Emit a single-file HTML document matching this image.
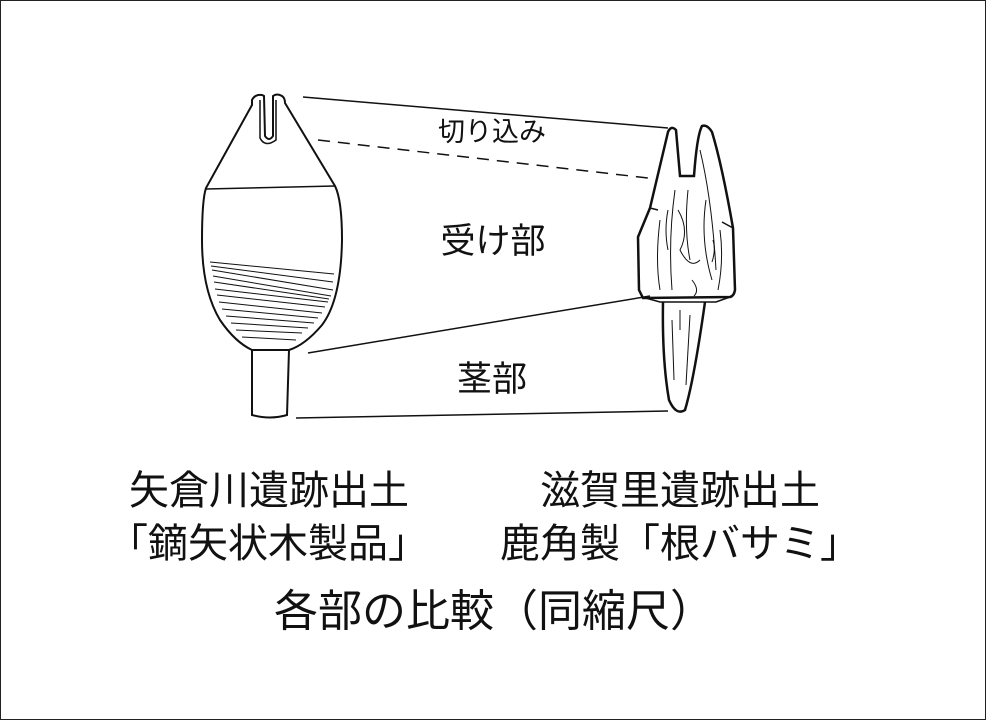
<!DOCTYPE html>
<html><head><meta charset="utf-8"><style>
html,body{margin:0;padding:0;background:#fff}
svg{display:block}
text{font-family:"Liberation Sans","Noto Sans CJK JP",sans-serif;fill:#111}
</style></head><body>
<svg width="986" height="720" viewBox="0 0 986 720" xmlns="http://www.w3.org/2000/svg">
<rect x="0.5" y="0.5" width="985" height="719" fill="#fff" stroke="#222"/>
<g stroke="#111" fill="none" stroke-width="1.5">
<line x1="303" y1="97" x2="668" y2="128"/>
<line x1="318" y1="140" x2="648" y2="178" stroke-dasharray="12,8"/>
<line x1="308" y1="353" x2="650" y2="296"/>
<line x1="296" y1="418" x2="668" y2="411"/>
<path d="M252,100 Q255,94 262,95 L264,96 L265,136 Q269,142 273,136 L273,96 Q277,93 282,96 Q285,98 285,103 L335,186 Q342,200 342,240 Q341,300 322,325 Q305,345 289,350 L252,350 Q235,342 220,320 Q202,290 202,240 Q202,200 206,188 L252,105 Z" stroke-width="2"/>
<path d="M260,100 L260,138 Q265,148 276,140 L276,100"/>
<path d="M206,189 L335,186"/>
<path d="M252,350 L252,415 Q270,420 287,415 L289,350" stroke-width="2"/>
<g stroke-width="1">
<path d="M210,262 L334,274"/><path d="M211,266 L333,282"/><path d="M212,270 L333,290"/>
<path d="M213,276 L331,296"/><path d="M214,282 L329,299"/><path d="M215,289 L328,302"/>
<path d="M217,295 L325,307"/><path d="M219,302 L322,313"/><path d="M222,309 L318,318"/>
<path d="M226,316 L314,323"/><path d="M231,323 L308,328"/><path d="M236,330 L302,333"/>
<path d="M242,337 L296,340"/>
</g>
<path d="M668,132 Q671,125 676,130 L680,176 L694,176 Q697,135 702,126 Q707,124 712,132 Q722,165 733,228 L735,290 Q734,296 730,297 L643,298 L639,290 L638,237 L650,208 Z" stroke-width="2.5"/>
<path d="M650,208 L658,210 M733,228 L722,222 M642,297 L660,302 L716,302 L730,297"/>
<path d="M663,302 Q662,360 669,400 Q676,416 685,410 Q694,380 705,302" stroke-width="2.5"/>
<g stroke-width="1">
<path d="M675,190 Q668,240 672,290"/><path d="M688,190 Q684,230 690,260"/><path d="M700,150 Q712,200 716,270"/>
<path d="M660,220 Q655,260 660,290"/><path d="M678,210 Q690,230 680,250 Q690,270 700,260"/><path d="M706,200 Q700,240 712,280"/>
<path d="M720,230 Q724,260 718,290"/><path d="M672,320 L674,380"/><path d="M690,315 L686,385"/><path d="M680,310 L680,330"/>
<path d="M668,210 Q664,230 668,250 M692,280 Q700,290 694,296 M713,240 Q716,250 712,262"/>
</g>
</g>
<text x="492" y="141" font-size="27" text-anchor="middle">切り込み</text>
<text x="493" y="253" font-size="35" text-anchor="middle">受け部</text>
<text x="492" y="391" font-size="35" text-anchor="middle">茎部</text>
<text x="269" y="504" font-size="40" text-anchor="middle">矢倉川遺跡出土</text>
<text x="268" y="557" font-size="40" text-anchor="middle">「鏑矢状木製品」</text>
<text x="680" y="504" font-size="40" text-anchor="middle">滋賀里遺跡出土</text>
<text x="680" y="557" font-size="40" text-anchor="middle">鹿角製「根バサミ」</text>
<text x="494" y="626" font-size="44" text-anchor="middle">各部の比較（同縮尺）</text>
</svg>
</body></html>
